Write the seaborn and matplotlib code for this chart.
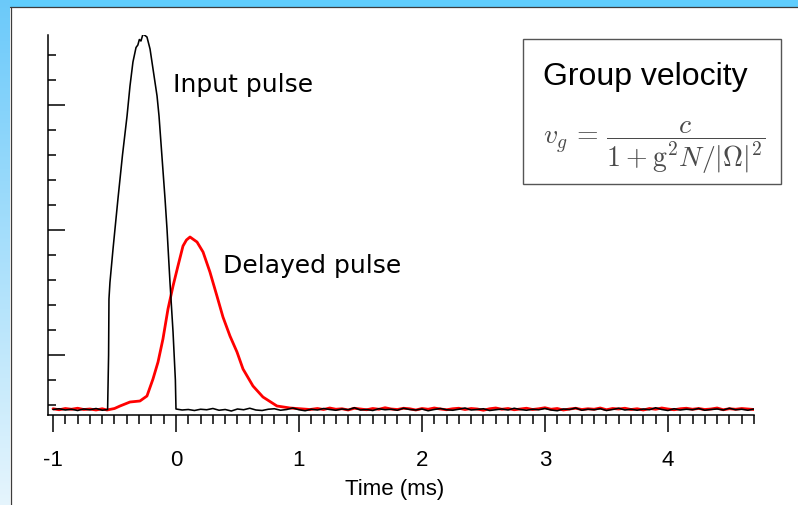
import numpy as np
import pandas as pd
import matplotlib
matplotlib.use("Agg")
import matplotlib.pyplot as plt
from matplotlib.patches import Rectangle
from matplotlib.lines import Line2D
from matplotlib.ticker import FixedLocator, MultipleLocator
import seaborn as sns

# ---------------------------------------------------------------- data
STEP = 0.05  # sample spacing of the flat baseline stretches (ms)

# baseline before either pulse arrives
pre_t = [-1.00, -0.95, -0.90, -0.85, -0.80, -0.75, -0.70, -0.65, -0.60]
input_pre_v = [-0.18, -0.15, -0.20, -0.17, -0.22, -0.16, -0.19, -0.14, -0.21]
delayed_pre_v = [-0.15, -0.19, -0.14, -0.17, -0.13, -0.18, -0.16, -0.20, -0.15]

# input pulse (black)
input_pulse_t = [-0.556, -0.548, -0.545, -0.537, -0.512, -0.472, -0.435, -0.398,
                 -0.374, -0.350, -0.325, -0.310, -0.298, -0.285, -0.268, -0.252,
                 -0.236, -0.211, -0.187, -0.154, -0.138, -0.089, -0.073, -0.049,
                 -0.024, -0.005, 0.0]
input_pulse_v = [-0.18, 2.00, 4.24, 4.90, 6.24, 8.24, 10.00, 11.56,
                 12.76, 13.72, 14.30, 14.40, 14.62, 14.56, 14.84, 14.78,
                 14.72, 14.24, 13.44, 12.36, 11.56, 8.24, 7.04, 4.92,
                 2.92, 1.00, -0.16]
input_tail_v = [
    -0.20, -0.18, -0.22, -0.17, -0.19, -0.14, -0.21, -0.18, -0.24, -0.16,
    -0.19, -0.13, -0.20, -0.22, -0.17, -0.15, -0.21, -0.18, -0.12, -0.19,
    -0.23, -0.17, -0.20, -0.14, -0.18, -0.21, -0.16, -0.19, -0.11, -0.20,
    -0.18, -0.22, -0.15, -0.19, -0.17, -0.21, -0.13, -0.18, -0.20, -0.16,
    -0.23, -0.18, -0.14, -0.19, -0.21, -0.17, -0.12, -0.20, -0.18, -0.15,
    -0.22, -0.19, -0.16, -0.20, -0.13, -0.18, -0.21, -0.17, -0.19, -0.14,
    -0.20, -0.23, -0.16, -0.18, -0.12, -0.21, -0.17, -0.19, -0.15, -0.22,
    -0.18, -0.13, -0.20, -0.17, -0.21, -0.16, -0.19, -0.11, -0.18, -0.22,
    -0.15, -0.20, -0.17, -0.19, -0.14, -0.21, -0.18, -0.16, -0.20, -0.13,
    -0.19, -0.17, -0.21, -0.16]

# delayed pulse (red)
delayed_pulse_t = [-0.561, -0.500, -0.455, -0.374, -0.293, -0.236, -0.187, -0.146,
                   -0.106, -0.065, -0.024, 0.016, 0.057, 0.085, 0.114, 0.171,
                   0.220, 0.276, 0.333, 0.382, 0.439, 0.496, 0.545, 0.626,
                   0.707, 0.821, 0.927, 1.089]
delayed_pulse_v = [-0.20, -0.14, -0.04, 0.12, 0.16, 0.36, 1.04, 1.72,
                   2.64, 3.84, 4.76, 5.56, 6.36, 6.60, 6.72, 6.52,
                   6.12, 5.32, 4.36, 3.52, 2.76, 2.12, 1.44, 0.76,
                   0.32, -0.04, -0.12, -0.18]
delayed_tail_v = [
    -0.14, -0.18, -0.12, -0.17, -0.15, -0.20, -0.13, -0.16, -0.19, -0.14,
    -0.17, -0.11, -0.16, -0.18, -0.13, -0.15, -0.20, -0.14, -0.17, -0.12,
    -0.16, -0.19, -0.15, -0.13, -0.18, -0.14, -0.16, -0.21, -0.15, -0.12,
    -0.17, -0.14, -0.19, -0.16, -0.13, -0.18, -0.15, -0.11, -0.17, -0.14,
    -0.20, -0.16, -0.13, -0.18, -0.15, -0.17, -0.12, -0.19, -0.14, -0.16,
    -0.13, -0.18, -0.15, -0.20, -0.14, -0.17, -0.12, -0.16, -0.19, -0.15,
    -0.13, -0.17, -0.14, -0.18, -0.16, -0.12, -0.19, -0.15, -0.17, -0.14,
    -0.16, -0.18]

x_major = [-1, 0, 1, 2, 3, 4]
x_labels = ["-1", "0", "1", "2", "3", "4"]
y_major = [2, 7, 12]
y_minor = list(range(15))

input_tail_t = list(np.round(np.arange(1, len(input_tail_v) + 1) * STEP, 2))
delayed_tail_t = list(np.round(1.10 + np.arange(1, len(delayed_tail_v) + 1) * STEP, 2))

input_df = pd.DataFrame({
    "t": pre_t + input_pulse_t + input_tail_t,
    "v": input_pre_v + input_pulse_v + input_tail_v,
})
delayed_df = pd.DataFrame({
    "t": pre_t + delayed_pulse_t + delayed_tail_t,
    "v": delayed_pre_v + delayed_pulse_v + delayed_tail_v,
})

# ---------------------------------------------------------------- figure
sns.set_style("white")
plt.rcParams["font.family"] = ["Liberation Sans", "DejaVu Sans"]
plt.rcParams["mathtext.fontset"] = "cm"
plt.rcParams["text.color"] = "black"
plt.rcParams["axes.labelcolor"] = "black"
plt.rcParams["xtick.color"] = "black"
plt.rcParams["ytick.color"] = "black"

W, H = 798, 506
fig = plt.figure(figsize=(W / 100, H / 100), dpi=100)
fig.patch.set_facecolor("white")


def fx(px):
    return px / W


def fy(py):
    return 1 - py / H


# slide frame: pale-blue gradient strip on the left, blue band on top
strip = fig.add_axes([0, 0, fx(10), 1])
grad = np.linspace(0, 1, 256)[:, None, None]
top_c = np.array([0.42, 0.79, 0.98])
bot_c = np.array([0.90, 0.96, 0.99])
strip.imshow(top_c + (bot_c - top_c) * grad, aspect="auto", extent=[0, 1, 0, 1], origin="upper")
strip.set_axis_off()
fig.add_artist(Rectangle((0, fy(8)), 1, 1 - fy(8), transform=fig.transFigure,
                         facecolor="#5fcdfd", edgecolor="none", zorder=0))
fig.add_artist(Line2D([fx(10), 1], [fy(8), fy(8)], transform=fig.transFigure,
                      color="#3c3c3c", lw=0.9))
fig.add_artist(Line2D([fx(10.5), fx(10.5)], [0, fy(8)], transform=fig.transFigure,
                      color="#3c3c3c", lw=0.9))

ax = fig.add_axes([fx(48), fy(416), fx(754) - fx(48), fy(36) - fy(416)])
ax.set_facecolor("white")

sns.lineplot(data=delayed_df, x="t", y="v", ax=ax, color="#ff0000", lw=2.0,
             estimator=None, sort=False, zorder=2)
sns.lineplot(data=input_df, x="t", y="v", ax=ax, color="black", lw=1.15,
             estimator=None, sort=False, zorder=3)

ax.set_xlim(-1.0407, 4.70)
ax.set_ylim(-0.40, 14.80)

for side in ("top", "right"):
    ax.spines[side].set_visible(False)
for side in ("left", "bottom"):
    ax.spines[side].set_linewidth(1.1)
    ax.spines[side].set_color("black")

ax.xaxis.set_major_locator(FixedLocator(x_major))
ax.set_xticklabels(x_labels)
ax.xaxis.set_minor_locator(MultipleLocator(0.1))
ax.yaxis.set_major_locator(FixedLocator(y_major))
ax.yaxis.set_minor_locator(FixedLocator(y_minor))

ax.tick_params(axis="both", which="both", bottom=True, left=True, top=False, right=False)
ax.tick_params(axis="x", which="major", direction="out", length=12.2, width=1.1,
               pad=12, labelsize=16, labelcolor="black")
ax.tick_params(axis="x", which="minor", direction="out", length=6.5, width=1.1)
ax.tick_params(axis="y", which="major", direction="in", length=12.0, width=1.1,
               labelleft=False)
ax.tick_params(axis="y", which="minor", direction="in", length=5.8, width=1.1)

ax.set_ylabel("")
ax.set_xlabel("Time (ms)", fontsize=16)
ax.xaxis.label.set_va("baseline")
ax.xaxis.set_label_coords((395 - 48) / 706, (416 - 495) / 380)

# pulse labels
ax.text(-0.027, 12.57, "Input pulse", family="DejaVu Sans", fontsize=18,
        ha="left", va="baseline", color="black")
ax.text(0.382, 5.32, "Delayed pulse", family="DejaVu Sans", fontsize=18,
        ha="left", va="baseline", color="black")

# group-velocity box
fig.add_artist(Rectangle((fx(523), fy(185)), fx(781) - fx(523), fy(40) - fy(185),
                         transform=fig.transFigure, facecolor="white",
                         edgecolor="#555555", lw=1.0, zorder=3))
fig.text(fx(543), fy(85), "Group velocity", fontsize=23, ha="left", va="baseline",
         color="black", zorder=4)
fig.text(fx(543), fy(148), r"$v_g\,=\,\dfrac{c}{1+\mathrm{g}^2N/|\Omega|^2}$",
         fontsize=20, color="#4a4a4a", ha="left", va="center", zorder=4)

fig.savefig("out.png", dpi=100)
